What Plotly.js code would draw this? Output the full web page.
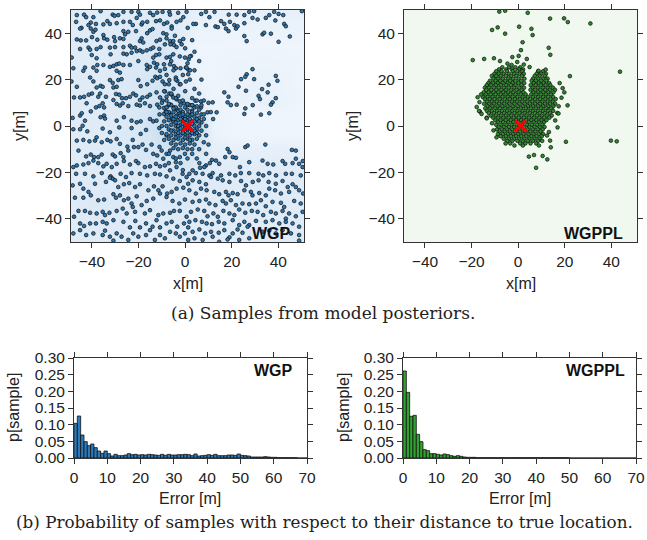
<!DOCTYPE html>
<html>
<head>
<meta charset="utf-8">
<script src="https://cdn.plot.ly/plotly-3.0.1.min.js"></script>
<style>html,body{margin:0;padding:0;background:#fff;}#chart{width:647px;height:540px;}</style>
</head>
<body>
<div id="chart"></div>
<script>
// ---------- DATA ----------
const trueLocation = [1, 0];

// WGP posterior samples [x, y] (m)
const wgpSamples = [
[-46.5,47.8],[-43.4,48],[-42.5,46.9],[-39.4,46.9],[-36.3,49.5],[-31.1,48],[-30.3,47.5],[-28.7,47.8],[-26.5,49.2],[-23,49.2],[-20.1,49.2],[-19.4,48],[-15.1,48.8],[-13.7,47.8],[-12,48.9],[-10.8,45.5],[-9.7,49.2],[-6.8,49.2],[-6.5,48],[-3,48.8],[0.6,49.2],
[-46.8,44.9],[-44.5,42.3],[-40.5,44.6],[-41.5,43.5],[-38.3,44],[-35.1,43.8],[-33.4,45.2],[-29.4,44.3],[-32.3,44],[-26.5,44.9],[-23.7,44.9],[-22.5,43.5],[-20.8,46.6],[-18.7,43.8],[-18.3,44.6],[-16.3,44.9],[-12.5,45.2],[-9.1,44],[-7.7,44.6],[-5.8,42.9],[-3.7,44.9],[-2,45.5],[-0.8,46.9],
[-45.1,42],[-40.5,42],[-39.4,40.6],[-38.5,41.5],[-35.1,39.2],[-30.5,38.3],[-26.5,40.9],[-25.8,39.5],[-24.4,40.6],[-21.1,40.9],[-16.3,40],[-15.1,41.2],[-14,41.8],[-9.4,40],[-5.8,42],[-4.4,38.9],[-8,39.5],[-46.5,37.3],[-44.8,36.9],[-42.5,36.9],[-40,38.3],[-37.7,37.2],[-34.8,37.8],[-33.4,37.2],[-30.1,36.6],[-28,37.8],[-26.5,37.5],[-19.4,36.6],[-18.7,37.8],[-18,36],[-12.3,36.6],[-10.8,37.2],[-8,37.8],[-6.5,36.6],[-5.1,36.6],[-2.3,36.6],[-0.8,37.5],
[-45.1,33.2],[-41.5,33.8],[-40.8,32.9],[-38,33.2],[-36.3,34],[-32.3,33.8],[-32,30.9],[-30.1,34],[-26.5,34],[-23.7,34.6],[-23,33.8],[-21.5,33.8],[-20.8,32.3],[-19.4,32.6],[-18.3,32],[-14.8,33.2],[-13.7,33.8],[-11.1,33.2],[-8.7,35.2],[-6.3,35.2],[-4.8,34.9],[-3.7,34],[-1.5,35.2],[0,33.5],[-48.7,29.5],[-40.1,30.6],[-38,29.2],[-26.5,31.2],[-25.1,30.9],[-23,31.6],[-16.5,32.6],[-13.7,29.5],[-12.5,30.6],[-11.1,30.9],[-8,29.5],[-6.5,29.8],[-5.1,30.9],[-2.3,30],[-0.1,29.5],
[-48,24.9],[-43,25.2],[-39.4,25.2],[-38,23.8],[-37.7,26.3],[-35.1,26.3],[-32.3,25.5],[-30.8,25.9],[-29.4,26.6],[-28.3,26.9],[-26.5,26.3],[-23.7,26.3],[-20.1,28],[-16.5,26.3],[-16.3,24.5],[-15.1,25.5],[-13.4,27.3],[-12.5,25.2],[-12,26.6],[-10.8,23.8],[-9.1,26.6],[-8.7,24.6],[-6.5,26.6],[-4.8,25.8],[-4,24.9],[-2,24.9],[0.3,25.2],[1.3,24.3],[-43.7,23.8],[-29.4,23.8],[-28,23],
[-48.8,19.2],[-46.5,16.9],[-40.8,20.9],[-39.4,19.2],[-38,16.6],[-36.3,17.3],[-35.4,16.9],[-32.3,19.8],[-31.1,18.6],[-30.8,16.6],[-29.4,16.9],[-28.7,19.8],[-27.3,20.2],[-20.1,19.8],[-19.1,17.2],[-16.3,18],[-14,19.5],[-12.8,21.2],[-12,20.6],[-10.8,21.2],[-9.7,19.2],[-8.7,18],[-6.8,19.8],[-4,20.9],[-3.4,19.5],[-2.3,18],[0.3,19.2],[1.3,22.3],[-40,14],
[-47.7,12.3],[-45.1,12.3],[-43.4,12.6],[-41.4,13.5],[-37.3,12.6],[-36.5,14],[-34,12.6],[-30.8,11.2],[-29.7,13.8],[-28.3,13.5],[-27.1,12],[-25.4,12],[-23.7,12.6],[-22.3,14],[-21.1,13.2],[-19.4,11.2],[-18.3,12.3],[-16.3,12.6],[-15.1,13.5],[-12.3,14.5],[-10.8,12.3],[-9.7,10.9],[-8.7,14.9],[-8,12.6],[-6.8,14],[-5.8,13.5],[-5.1,12.3],[-3.7,11.5],[-2.3,10.6],[-0.5,9.8],[1.3,9.2],[-42.3,9.8],[-38.3,8],[-36.8,8.6],[-35.4,9.8],[-34.8,8],[-29.4,9.5],[-28,8.8],[-26.8,9.8],[-24.4,8.6],[-20.8,9.2],[-19.4,8.8],[-17.3,9.8],[-15.1,8.6],[-12,9.2],[-11.1,8],[-9.1,7.8],[-7.7,8.3],[-6.3,9.2],[-4.8,8],[-3.7,7.3],
[-48.3,3.5],[-45.1,4.5],[-44.4,5.5],[-43,2.3],[-40.5,6.3],[-36.3,3.8],[-34.8,4.5],[-34.4,3.2],[-29.4,2.3],[-26.3,3.8],[-23,2.3],[-20.8,1.6],[-19.1,2],[-15.1,3],[-13.7,2],[-12.3,2.3],[-9.1,5.2],[-8.3,6.3],[-6.8,5.5],[-5.8,3.5],[-5.1,2.3],[-3.7,4.5],[-2.5,5.5],[-1.5,3.8],[-0.8,1.8],[0.3,2.6],[1.3,5],
[6.9,48.3],[8.9,49.2],[10.4,46.9],[12.6,49.2],[18.7,48],[22.1,48],[25.4,47.8],[27.5,49.2],[29.6,49.5],[28.9,46.6],[31.1,45.9],[34.6,46.6],[36.1,47.8],[38.2,49.2],[40.1,48.3],[42.1,47.8],[38.7,45.5],[42.5,44],[43.2,43],[50.1,49.5],
[4.6,44],[3.5,44],[8.9,43.5],[13,42.9],[14,42.6],[15.4,45.2],[16.8,44],[17.5,42],[18.6,40.9],[19.2,44.9],[21.1,43.5],[21.8,42],[22.5,43],[25.4,44.3],[25.4,38.8],[26.4,36.6],[33.2,39.5],[33.9,40.2],[36.8,39.8],[40.1,36.3],[44.9,38.6],[1.1,42.3],[2.5,30.2],[1.5,28.8],[0.6,25.2],[2.1,24],
[28.9,24.5],[26.4,22.3],[25.8,21.2],[24,20.2],[29.6,20.2],[38.9,21.6],[39.6,19.5],[22.9,16.9],[26.1,15.2],[33,15.9],[35.8,17.8],[35.4,14.5],[31.5,13],[32.1,11.6],[38.9,12],[37.5,10.2],[36.8,9.2],[29,9],[25.8,7.6],[25.4,5.2],[32.5,4.9],[36.1,5.5],[16.8,14.5],[18.6,12.6],[18.2,10.2],[19.6,9],[22.1,9.2],[11.8,10.2],[13.5,5.9],[9.6,5.9],[6.8,10.6],[6.8,8],[4.4,10.9],[3.2,8.8],[2.9,6.6],
[-48,-1.4],[-45.1,-1.4],[-44,0.1],[-42,-2.3],[-35.4,-1.1],[-32.3,-2.7],[-28.3,-0.6],[-23,-0.9],[-19.1,-3.4],[-16.8,-1.7],[-11.1,-0.9],[-8,-4.1],
[-46.5,-6.3],[-43.7,-6],[-41.1,-6.6],[-38.7,-6.3],[-38,-4.9],[-35.8,-7],[-33.4,-6],[-32,-6.6],[-29.4,-5.6],[-28,-7.7],[-24.8,-8.9],[-22.5,-6],[-22,-9.1],[-20.1,-9.1],[-18.3,-8],[-16.8,-10.3],[-14.4,-8],[-13.7,-12],[-12,-12.7],[-10.1,-10.6],[-9.4,-14.1],[-8,-12],[-6.5,-10.6],[-5.1,-13.4],[-4,-15.6],[-2.3,-13.4],[-0.1,-12],
[-45.8,-10.6],[-42.5,-13.1],[-40.5,-12.3],[-39.1,-13.4],[-37.3,-13.4],[-35.8,-12.3],[-31.1,-12.3],[-30.1,-13.1],[-27.7,-11.7],[-26.5,-13.4],[-24.4,-10.6],
[-48,-17.7],[-46.5,-17],[-43.7,-16.6],[-41.5,-16],[-39.4,-14.9],[-37.3,-16],[-35.1,-17.4],[-33.7,-16.3],[-31.5,-17.7],[-29.4,-16.3],[-26.3,-15.1],[-23.7,-16.6],[-21.1,-15.1],[-20.1,-16],[-17.3,-17.7],[-15.1,-17.4],[-12.5,-16.3],[-10.8,-17.4],[-8.7,-17],[-6.5,-19.1],[-3.7,-17.7],[-1.1,-20.6],
[-46.8,-20.6],[-43,-20.6],[-39.4,-21.7],[-35.8,-20.3],[-32,-21.7],[-31.1,-22.7],[-27.7,-20.6],[-25.4,-22],[-23,-20.3],[-19.4,-20.6],[-16.3,-21.3],[-13,-20.6],[-10.8,-20.9],[-8,-21.7],[-5.1,-22.7],[-2.3,-23.7],[0.6,-22],
[-48.3,-25.6],[-45.1,-24.9],[-43.7,-27],[-41.5,-28.4],[-38.7,-24.9],[-34,-24.1],[-32.3,-22.3],[-30.1,-23.4],[-28.7,-26.3],[-26.3,-25.1],[-24,-24.6],[-21.5,-26.3],[-19.4,-25.1],[-15.8,-27.7],[-13.4,-26],[-11.5,-27.7],[-9.7,-26],[-7.7,-29.1],[-5.8,-28.4],[-3.7,-27],[-0.8,-26.6],[1.3,-24.9],
[-47.3,-30.9],[-43.7,-30.9],[-40.5,-29.9],[-37.3,-32],[-34.8,-31.7],[-30.8,-29.4],[-29.7,-30.9],[-28,-29.9],[-26.3,-32],[-24.4,-31.3],[-23,-33.4],[-20.8,-30.3],[-18.7,-34.1],[-16.5,-32.3],[-13.7,-31.3],[-10.8,-29.1],[-8,-30.6],[-5.4,-32.3],[-2.5,-33.4],[-0.1,-31.7],
[-45.8,-36.6],[-43,-36.6],[-40.8,-37.4],[-38,-37.7],[-35.4,-37],[-34.4,-38.4],[-32.5,-37.4],[-29.4,-36.6],[-26.8,-35.6],[-25.1,-37.7],[-22.5,-34.9],[-21.5,-37],[-17.3,-37.7],[-15.1,-36.3],[-11.5,-38.4],[-9.4,-37.7],[-6.5,-37.4],[-4.8,-36.6],[-2.3,-36.6],[0.6,-39.1],
[-47.7,-39.1],[-45.1,-42],[-43.4,-43.1],[-40.8,-42],[-38.3,-42],[-35.4,-41.3],[-33.7,-42],[-30.8,-40.6],[-26.5,-41.3],[-23.7,-43.7],[-21.4,-40.9],[-19.4,-43.7],[-16.8,-42],[-14,-43.4],[-12.3,-40.6],[-10.8,-43.7],[-8,-42],[-5.8,-41.3],[-3.4,-43.4],[-0.5,-42],[1.3,-43.7],
[-48,-46.3],[-45.1,-44.9],[-42.5,-47],[-39.4,-46.3],[-35.4,-47],[-34.4,-45.1],[-32.3,-47.7],[-30.8,-49.4],[-29.4,-46.3],[-27.3,-47.7],[-24.4,-49.1],[-22.3,-46.3],[-20.1,-47.7],[-16.8,-47],[-15.1,-44.9],[-13,-49.1],[-10.8,-47],[-8.7,-48.4],[-6.5,-45.6],[-4,-46.3],[-2.3,-47.7],[-0.1,-46.3],[1.3,-49.1],
[18.2,-9.9],[19,-11.3],[25.8,-9.1],[26.8,-8.4],[34.4,-8],[45.8,-10.3],[47.5,-10.6],[50.4,-17.7],[17.2,-13.4],[20.4,-13.4],[21.8,-13.7],[13.2,-14.9],[14.6,-16.3],[11.5,-14.6],[10.6,-16],[8.9,-17],[8.2,-17.7],[6.1,-16],[6.4,-18],[3.2,-19.1],[4.6,-20.3],[1.8,-20.6],
[23.5,-17.7],[27.5,-15.6],[33.2,-14.9],[35.4,-16.3],[37.8,-16.6],[41.8,-15.1],[42.9,-16.3],[46.1,-16],[47.5,-14.1],[48.9,-16.3],[50.5,-15.1],
[7.5,-20.6],[10.4,-21.3],[11.8,-20.3],[15.4,-21.3],[19,-20.6],[21.5,-21.3],[23.9,-20.3],[27.5,-20.3],[31.5,-20.6],[33.5,-21.3],[36.1,-20.3],[39,-21.3],[43.2,-20.6],[45.8,-20.6],[49.6,-21.3],
[3.2,-23.4],[6.1,-24.1],[8.9,-25.1],[11.1,-22],[14,-22.7],[16.1,-23.4],[19,-24.1],[24,-23.7],[26.1,-25.6],[29,-24.1],[31.5,-23.4],[35.8,-24.1],[38.9,-24.9],[41.8,-23.7],[44,-26.3],[46.1,-25.1],[47.5,-26.3],
[1.8,-27.7],[4.6,-29.1],[6.8,-27],[9.2,-27.7],[12.5,-28.4],[14.6,-29.4],[17.5,-28.4],[18.6,-29.9],[20.4,-28.9],[22.5,-29.4],[25.4,-27.7],[28.2,-28.4],[28.9,-29.9],[31.8,-28.9],[34.6,-29.9],[36.1,-27],[38.6,-27.7],[41.1,-29.1],[44.6,-28.4],[48.9,-27.7],[50.6,-29.1],
[3.2,-32.7],[6.1,-32.3],[8.9,-31.7],[10.4,-33.4],[13,-34.1],[16.1,-32.3],[17.5,-33.4],[19.6,-32],[21.8,-34.1],[24.6,-33.4],[27.5,-33.7],[30.4,-33.4],[32.5,-32],[34.6,-34.6],[37.5,-32.7],[41.1,-33.1],[42.5,-34.9],[46.8,-32.3],[49.6,-33.4],
[2.5,-37],[5.4,-36],[8.2,-36.6],[9.6,-38.9],[12.1,-37.7],[14,-39.1],[16.4,-36.6],[19,-37.7],[21.1,-38.4],[23.2,-36],[25.8,-37.4],[28.6,-36.6],[31.1,-37],[33.5,-38.4],[36.8,-37],[38.9,-37.7],[41.8,-36.6],[43.2,-39.9],[44.6,-37.7],[47.5,-38.9],[50.4,-37],
[1.8,-41.3],[4.4,-40.6],[7.2,-41.3],[9.2,-42],[11.5,-42.3],[14.4,-41.3],[16.8,-42],[20.4,-40.6],[23.2,-42.7],[25.4,-41.3],[27.5,-42.7],[30.4,-40.9],[34.6,-41.3],[37.5,-40.6],[40.4,-42],[43.2,-41.3],[46.1,-42],[48.9,-43.4],
[3.2,-45.6],[6.1,-44.6],[8.6,-46.3],[11.1,-45.6],[14.4,-46],[16.8,-44.9],[19,-48],[20.4,-46.3],[22.5,-44.6],[24.6,-46],[26.8,-43.4],[33.2,-45.6],[36.1,-45.1],[38.9,-46.3],[41.8,-44.9],[45.4,-46.3],[48.9,-47],
[4,-48.4],[7.5,-49.1],[11.8,-47.7],[14.6,-49.9],[18.2,-48.9],[23.2,-49.1],[27.5,-48.4],[48.9,-49.4],
[-8,8],[-6,9],[-4,8],[-2,9],[0,8],[2,9],[4,8],[6,7],[-7,6],[-5,6],[-3,6.5],[-1,6],[1,7],[3,6],[5,5.5],[7,5],[-8,4],[-6,4.5],[-4,4],[-2,4.5],[0,4],[2,4.5],[4,4],[6,3.5],[8,3],[-9,2],[-7,2.5],[-5,2],[-3,2.5],[-1,2],[1,2.5],[3,2],[5,2],[7,1.5],[-8,0],[-6,0.5],[-4,0],[-2,0.5],[0,0],[2,1],[4,0],[6,0],[-7,-1.5],[-5,-2],[-3,-1.5],[-1,-2],[1,-1.5],[3,-2],[5,-1.5],[7,-2],[-8,-3.5],[-6,-4],[-4,-3.5],[-2,-4],[0,-3.5],[2,-4],[4,-3.5],[6,-4],[-7,-5.5],[-5,-6],[-3,-5.5],[-1,-6],[1,-5.5],[3,-6],[5,-5.5],[-6,-7.5],[-4,-8],[-2,-7.5],[0,-8],[2,-7.5],[4,-8],[-3,-10],[-1,-9.5],[1,-10],[3,-10],[-5,-9.5],
[-1,1],[1,0.5],[0,-1],[2,-1],[3,1],[-2,-1],[0,3],[2,3],[-1,-3],[1,-3],[3,-3],[4,2],[-3,0],[-2,3],[-4,1.5],[-3,-3],[1,5],[-1,5],[3,5],[-5,3],[5,3],[4,-2],[0,-5],[2,-6],[-4,-5],[5,-3],[-6,-2],[6,2],[-2,7],[-5,7.5],[1,9.5],[3,9],[-7,9.5],[5,8.5],[-8,6],
[-6,28],[-5,24],[-8,22],[-7,18],[-5,16],[-9,15],[-6,14],[-4,12],[-8,11],[-10,10],[-11,5],[-10,0],[-10,-3],[-9,-6],[-11,-9],[-7,-12],[-4,-14],[-2,-16],[1,-14],[3,-12],[6,-10],[8,-7],[9,-4],[9,0],[8,5],[7,9],[5,11],[3,12],[-1,11],[-3,13],[0,15],[-2,18],[-4,20],[-1,22],[1,27],[2,30],[4,32],[3,37],[6,28],[7,20],[4,24],[2,20],[4,16],[6,14],[8,11],[10,10],[11,6],[12,3],[10,-8],[9,-12],[5,-14],[-1,-19],[-7,-16]
];

// WGPPL posterior samples [x, y] (m)
const wgpplSamples = [
[-6.8,25.3],[-3.9,25.3],[-1.2,25.3],[0.9,25.3],
[-8.2,24.4],[-5.1,24.4],[-2.6,24.4],[0.3,24.4],[2.1,24.4],
[-9.4,23.6],[-7.1,23.6],[-4.8,23.6],[-2.3,23.6],[-0.4,23.6],[1.8,23.6],[8.6,23.6],[10.7,23.6],
[-10.2,22.5],[-8.3,22.5],[-6.2,22.5],[-3.9,22.5],[-1.7,22.5],[0.6,22.5],[2.4,22.5],[7.9,22.5],[9.8,22.5],[11.9,22.5],
[-11.3,21.6],[-9.4,21.6],[-7.5,21.6],[-5.3,21.6],[-3.1,21.6],[-0.8,21.6],[1.6,21.6],[7.1,21.6],[9.2,21.6],[11.4,21.6],
[-10.6,20.4],[-8.6,20.4],[-6.6,20.4],[-4.2,20.4],[-2.2,20.4],[0.2,20.4],[2.7,20.4],[6.4,20.4],[8.5,20.4],[10.6,20.4],[12.6,20.4],
[-12.1,19.5],[-9.7,19.5],[-7.7,19.5],[-5.5,19.5],[-3.4,19.5],[-1.2,19.5],[1.3,19.5],[5.8,19.5],[7.6,19.5],[9.9,19.5],[12.1,19.5],
[-12.8,18.5],[-10.9,18.5],[-8.8,18.5],[-6.7,18.5],[-4.6,18.5],[-2.4,18.5],[0.1,18.5],[2.6,18.5],[6.7,18.5],[8.8,18.5],[10.9,18.5],[13.3,18.5],[17.8,18.5],
[-13.5,17.6],[-11.7,17.6],[-9.6,17.6],[-7.4,17.6],[-5.2,17.6],[-3.1,17.6],[-1.1,17.6],[1.4,17.6],[5.4,17.6],[7.5,17.6],[9.7,17.6],[11.8,17.6],[13.8,17.6],
[-14.3,16.5],[-12.4,16.5],[-10.3,16.5],[-8.3,16.5],[-6.1,16.5],[-4,16.5],[-1.8,16.5],[0.4,16.5],[2.5,16.5],[6.2,16.5],[8.4,16.5],[10.6,16.5],[12.7,16.5],[14.9,16.5],
[-13.7,15.6],[-11.6,15.6],[-9.4,15.6],[-7.2,15.6],[-5.2,15.6],[-2.9,15.6],[-0.7,15.6],[1.5,15.6],[5.3,15.6],[7.3,15.6],[9.5,15.6],[11.6,15.6],[13.6,15.6],[15.8,15.6],
[-14.8,14.5],[-12.7,14.5],[-10.6,14.5],[-8.5,14.5],[-6.4,14.5],[-4.3,14.5],[-2.1,14.5],[0.2,14.5],[2.3,14.5],[6.5,14.5],[8.6,14.5],[10.8,14.5],[12.9,14.5],[15.1,14.5],
[-13.9,13.6],[-11.8,13.6],[-9.7,13.6],[-7.5,13.6],[-5.4,13.6],[-3.3,13.6],[-1.1,13.6],[1.1,13.6],[3.2,13.6],[5.6,13.6],[7.7,13.6],[9.8,13.6],[11.9,13.6],[14.1,13.6],
[-15.2,12.5],[-13.1,12.5],[-11,12.5],[-8.8,12.5],[-6.7,12.5],[-4.5,12.5],[-2.4,12.5],[-0.3,12.5],[1.9,12.5],[4.1,12.5],[6.3,12.5],[8.5,12.5],[10.7,12.5],[12.8,12.5],[15,12.5],
[-14.3,11.6],[-12.2,11.6],[-10.1,11.6],[-7.9,11.6],[-5.7,11.6],[-3.6,11.6],[-1.4,11.6],[0.8,11.6],[3,11.6],[5.2,11.6],[7.3,11.6],[9.5,11.6],[11.7,11.6],[13.9,11.6],[16.1,11.6],
[-13.4,10.5],[-11.3,10.5],[-9.2,10.5],[-7,10.5],[-4.8,10.5],[-2.6,10.5],[-0.5,10.5],[1.7,10.5],[3.9,10.5],[6.1,10.5],[8.3,10.5],[10.4,10.5],[12.6,10.5],[14.8,10.5],
[-14.6,9.6],[-12.5,9.6],[-10.4,9.6],[-8.2,9.6],[-6,9.6],[-3.8,9.6],[-1.6,9.6],[0.6,9.6],[2.8,9.6],[5,9.6],[7.2,9.6],[9.4,9.6],[11.5,9.6],[13.7,9.6],[15.9,9.6],
[-13.2,8.5],[-11.1,8.5],[-8.9,8.5],[-6.8,8.5],[-4.6,8.5],[-2.4,8.5],[-0.2,8.5],[2,8.5],[4.2,8.5],[6.4,8.5],[8.6,8.5],[10.7,8.5],[12.9,8.5],[15.1,8.5],
[-14.1,7.6],[-12,7.6],[-9.8,7.6],[-7.7,7.6],[-5.5,7.6],[-3.3,7.6],[-1.1,7.6],[1.1,7.6],[3.3,7.6],[5.5,7.6],[7.7,7.6],[9.9,7.6],[12.1,7.6],[14.2,7.6],
[-13.4,6.5],[-11.3,6.5],[-9.1,6.5],[-6.9,6.5],[-4.7,6.5],[-2.5,6.5],[-0.3,6.5],[1.9,6.5],[4.1,6.5],[6.3,6.5],[8.5,6.5],[10.7,6.5],[12.8,6.5],[15,6.5],
[-12.6,5.6],[-10.4,5.6],[-8.2,5.6],[-6,5.6],[-3.8,5.6],[-1.6,5.6],[0.6,5.6],[2.8,5.6],[5,5.6],[7.2,5.6],[9.3,5.6],[11.5,5.6],[13.7,5.6],[16.8,5.6],
[-11.8,4.5],[-9.6,4.5],[-7.4,4.5],[-5.2,4.5],[-3,4.5],[-0.8,4.5],[1.4,4.5],[3.6,4.5],[5.8,4.5],[8,4.5],[10.1,4.5],[12.3,4.5],[14.4,4.5],
[-13.5,3.6],[-10.7,3.6],[-8.5,3.6],[-6.3,3.6],[-4.1,3.6],[-1.9,3.6],[0.3,3.6],[2.5,3.6],[4.7,3.6],[6.9,3.6],[9.1,3.6],[11.2,3.6],[13.4,3.6],
[-9.8,2.5],[-7.6,2.5],[-5.4,2.5],[-3.2,2.5],[-1,2.5],[1.2,2.5],[3.4,2.5],[5.6,2.5],[7.8,2.5],[10,2.5],[12.1,2.5],
[-8.7,1.6],[-6.5,1.6],[-4.3,1.6],[-2.1,1.6],[0.1,1.6],[2.3,1.6],[4.5,1.6],[6.7,1.6],[8.9,1.6],[11,1.6],
[-9.4,0.5],[-7.2,0.5],[-5,0.5],[-2.8,0.5],[-0.6,0.5],[1.6,0.5],[3.8,0.5],[6,0.5],[8.2,0.5],[10.4,0.5],
[-8.4,-0.4],[-6.2,-0.4],[-4,-0.4],[-1.8,-0.4],[0.4,-0.4],[2.6,-0.4],[4.8,-0.4],[7,-0.4],[9.2,-0.4],[11.3,-0.4],
[-9.1,-1.5],[-7,-1.5],[-4.8,-1.5],[-2.6,-1.5],[-0.4,-1.5],[1.8,-1.5],[4,-1.5],[6.2,-1.5],[8.4,-1.5],[10.5,-1.5],
[-8,-2.4],[-5.8,-2.4],[-3.6,-2.4],[-1.4,-2.4],[0.8,-2.4],[3,-2.4],[5.2,-2.4],[7.4,-2.4],[9.6,-2.4],
[-8.7,-3.5],[-6.6,-3.5],[-4.4,-3.5],[-2.2,-3.5],[0,-3.5],[2.2,-3.5],[4.4,-3.5],[6.6,-3.5],[8.8,-3.5],[10.7,-3.5],
[-7.5,-4.4],[-5.3,-4.4],[-3.1,-4.4],[-0.9,-4.4],[1.3,-4.4],[3.5,-4.4],[5.7,-4.4],[7.9,-4.4],[10.1,-4.4],
[-6.2,-5.5],[-4,-5.5],[-1.8,-5.5],[0.4,-5.5],[2.6,-5.5],[4.8,-5.5],[7,-5.5],[9.2,-5.5],
[-4.7,-6.4],[-2.5,-6.4],[-0.3,-6.4],[1.9,-6.4],[4.1,-6.4],[6.3,-6.4],[8.5,-6.4],[10.3,-6.4],
[-3.4,-7.5],[0.9,-7.5],[3.1,-7.5],[5.3,-7.5],[7.8,-7.5],
[-1.6,-8.4],[2,-8.4],[8.9,-8.4],
[-8.1,49.3],[-5.6,49.7],[4.1,48.8],[13.7,46.3],[19.7,46.4],[21.3,44.8],[31,44.2],[-11.2,41.4],[-8.8,42.5],[0.4,42.8],[-5.6,39.8],[5.7,41.9],[6.2,39.2],[1.9,36.1],[13.1,33.7],[1.2,32.7],[13.8,30.7],[0.2,30.2],[-2.5,29.7],[3.7,28.9],[-19.5,28.4],[-14.6,28.9],[-10.4,29.2],[43.7,23.4],[22.2,21.5],[20.5,-6.8],[39.8,-6.3],[42.3,-6.6],[13.7,-6.3],[14,-9.2],[4.6,-13.2],[6.8,-12.5],[10.5,-12.9],[12.5,-14.4],[7.7,-18],[-7.8,28],[-16.4,6.2],[-15.7,5.2],[-13.5,3.3],[-9.3,-4.9],[-5.4,-7.5],[-0.4,27.6],[2.4,26.5],[-2.8,26.3],[4.9,25.4],[-17.4,12.4],[-16.6,10.3],[-17.8,8.2],[19.8,14.5],[18.6,12.2],[19.1,16.3],[17.3,5.4],[15.9,2.4],[13.2,-2.6],[12.4,-4.1],[-10.6,-1.9],[-11.2,1.2],[16.9,-0.6],[8.7,23.8],[11.8,24.3],[-4.6,26.9],[21.2,8.9],[-15.9,13.6],[17.4,8.5],[-16.8,6.5]
];

// WGP posterior density background (coarse grid)
const densX = [-49, -35, -20, -10, -4, 1, 6, 12, 20, 35, 51];
const densY = [-50, -35, -20, -10, -4, 0, 5, 10, 20, 35, 50];
const densZ = [
[0.25,0.25,0.25,0.25,0.25,0.25,0.25,0.25,0.25,0.25,0.25],
[0.25,0.28,0.25,0.25,0.28,0.28,0.25,0.25,0.25,0.25,0.25],
[0.25,0.25,0.28,0.30,0.30,0.30,0.28,0.25,0.25,0.25,0.25],
[0.25,0.25,0.30,0.35,0.40,0.40,0.30,0.18,0.15,0.15,0.15],
[0.25,0.25,0.30,0.40,0.65,0.75,0.45,0.12,0.05,0.05,0.05],
[0.25,0.25,0.30,0.45,0.80,1.00,0.55,0.10,0.05,0.05,0.05],
[0.25,0.25,0.30,0.45,0.65,0.70,0.40,0.10,0.05,0.05,0.05],
[0.25,0.25,0.30,0.40,0.40,0.35,0.20,0.08,0.10,0.15,0.05],
[0.25,0.25,0.30,0.35,0.30,0.15,0.08,0.05,0.10,0.12,0.05],
[0.25,0.25,0.28,0.32,0.25,0.12,0.05,0.05,0.05,0.05,0.05],
[0.25,0.25,0.25,0.25,0.25,0.20,0.15,0.15,0.15,0.15,0.15]
];

// Error histograms: 1 m bins starting at 0
const errorBins = [0.5,1.5,2.5,3.5,4.5,5.5,6.5,7.5,8.5,9.5,10.5,11.5,12.5,13.5,14.5,15.5,16.5,17.5,18.5,19.5,20.5,21.5,22.5,23.5,24.5,25.5,26.5,27.5,28.5,29.5,30.5,31.5,32.5,33.5,34.5,35.5,36.5,37.5,38.5,39.5,40.5,41.5,42.5,43.5,44.5,45.5,46.5,47.5,48.5,49.5,50.5,51.5,52.5,53.5,54.5,55.5,56.5,57.5,58.5,59.5,60.5,61.5,62.5,63.5,64.5,65.5,66.5,67.5,68.5,69.5];
const wgpHist = [0.104,0.126,0.069,0.049,0.037,0.042,0.031,0.021,0.014,0.021,0.013,0.006,0.011,0.007,0.007,0.009,0.013,0.010,0.011,0.009,0.010,0.009,0.011,0.010,0.009,0.008,0.011,0.008,0.011,0.009,0.009,0.010,0.010,0.011,0.010,0.007,0.012,0.006,0.007,0.008,0.010,0.008,0.011,0.007,0.007,0.007,0.009,0.009,0.008,0.012,0.008,0.007,0.006,0.003,0.003,0.003,0.003,0.004,0.003,0.002,0.002,0.001,0.001,0.001,0.001,0.001,0.001,0,0,0];
const wgpplHist = [0.261,0.197,0.125,0.128,0.071,0.049,0.025,0.022,0.013,0.013,0.011,0.009,0.012,0.010,0.007,0.005,0.007,0.005,0.003,0.002,0.002,0.002,0.001,0.001,0.001,0.001,0.001,0.001,0.001,0.001,0.001,0.001,0.001,0.001,0.001,0.001,0.001,0.001,0.001,0.001,0.001,0.001,0.001,0.001,0.001,0.001,0.001,0.001,0.001,0.001,0,0,0,0,0,0,0,0,0,0,0,0,0,0,0,0,0,0,0,0];

const posTicks = [-40, -20, 0, 20, 40];
const errTicks = [0, 10, 20, 30, 40, 50, 60, 70];
const probTicks = [0, 0.05, 0.10, 0.15, 0.20, 0.25, 0.30];

// ---------- TRACES ----------
const dotLine = {color: '#0c0c0c', width: 0.7};
const redX = {symbol: 'x-thin', size: 11, color: '#ff0000', line: {color: '#ff0000', width: 3}};
const traces = [
  {type: 'heatmap', x: densX, y: densY, z: densZ, zsmooth: 'best', zmin: 0, zmax: 1, showscale: false,
   colorscale: [[0,'#f2f7fd'],[0.25,'#dfebf7'],[0.5,'#c2dbee'],[0.75,'#96c3e2'],[1,'#68a6d4']],
   xaxis: 'x', yaxis: 'y', hoverinfo: 'skip'},
  {type: 'scatter', mode: 'markers', x: wgpSamples.map(p => p[0]), y: wgpSamples.map(p => p[1]),
   marker: {size: 3.7, color: '#2f79b3', line: dotLine}, xaxis: 'x', yaxis: 'y'},
  {type: 'scatter', mode: 'markers', x: [trueLocation[0]], y: [trueLocation[1]], marker: redX, xaxis: 'x', yaxis: 'y'},
  {type: 'scatter', mode: 'markers', x: wgpplSamples.map(p => p[0]), y: wgpplSamples.map(p => p[1]),
   marker: {size: 3.7, color: '#2e8b2e', line: dotLine}, xaxis: 'x2', yaxis: 'y2'},
  {type: 'scatter', mode: 'markers', x: [trueLocation[0]], y: [trueLocation[1]], marker: redX, xaxis: 'x2', yaxis: 'y2'},
  {type: 'bar', x: errorBins, y: wgpHist, width: 1, marker: {color: '#2b7bba', line: {color: '#111', width: 0.8}}, xaxis: 'x3', yaxis: 'y3'},
  {type: 'bar', x: errorBins, y: wgpplHist, width: 1, marker: {color: '#33a033', line: {color: '#111', width: 0.8}}, xaxis: 'x4', yaxis: 'y4'}
];

// ---------- LAYOUT ----------
const W = 647, H = 540;
const dx = (a, b) => [a / W, b / W];
const dy = (top, bot) => [1 - bot / H, 1 - top / H];
const axBase = {showgrid: false, zeroline: false, showline: true, linecolor: '#333', linewidth: 1,
  mirror: 'ticks', ticks: 'outside', ticklen: 5, tickwidth: 1, tickcolor: '#333',
  tickfont: {size: 15.5, color: '#222'}, fixedrange: true};

const titleFont = {size: 16, color: '#222'};
const tagFont = {size: 16, color: '#111', weight: 'bold'};
const capFont = {family: 'DejaVu Serif, serif', size: 17, color: '#222'};
const ann = (text, x, y, opts) => Object.assign({text, x, y, xref: 'paper', yref: 'paper', showarrow: false,
  xanchor: 'center', yanchor: 'middle', font: titleFont}, opts || {});

const layout = {
  width: W, height: H, margin: {l: 0, r: 0, t: 0, b: 0},
  paper_bgcolor: '#ffffff', plot_bgcolor: '#ffffff', showlegend: false,
  font: {family: 'Liberation Sans, Arial, sans-serif', color: '#222'},
  bargap: 0,
  xaxis:  Object.assign({}, axBase, {domain: dx(71, 304), range: [-49, 51], tickvals: posTicks, anchor: 'y'}),
  yaxis:  Object.assign({}, axBase, {domain: dy(10, 242), range: [-50, 50], tickvals: posTicks, anchor: 'x'}),
  xaxis2: Object.assign({}, axBase, {domain: dx(404, 637), range: [-49, 51], tickvals: posTicks, anchor: 'y2'}),
  yaxis2: Object.assign({}, axBase, {domain: dy(10, 242), range: [-50, 50], tickvals: posTicks, anchor: 'x2'}),
  xaxis3: Object.assign({}, axBase, {domain: dx(74, 307), range: [0, 70], tickvals: errTicks, anchor: 'y3'}),
  yaxis3: Object.assign({}, axBase, {domain: dy(358, 458), range: [0, 0.30], tickvals: probTicks, tickformat: '.2f', anchor: 'x3'}),
  xaxis4: Object.assign({}, axBase, {domain: dx(403, 636), range: [0, 70], tickvals: errTicks, anchor: 'y4'}),
  yaxis4: Object.assign({}, axBase, {domain: dy(358, 458), range: [0, 0.30], tickvals: probTicks, tickformat: '.2f', anchor: 'x4'}),
  shapes: [
    {type: 'rect', xref: 'x2 domain', yref: 'y2 domain', x0: 0, x1: 1, y0: 0, y1: 1,
     fillcolor: '#f1f8ef', line: {width: 0}, layer: 'below'}
  ],
  annotations: [
    ann('x[m]', 187.5 / W, 1 - 283 / H),
    ann('x[m]', 520.5 / W, 1 - 283 / H),
    ann('y[m]', 19 / W, 1 - 126 / H, {textangle: -90}),
    ann('y[m]', 352 / W, 1 - 126 / H, {textangle: -90}),
    ann('WGP', 293 / W, 1 - 233 / H, {xanchor: 'right', font: tagFont}),
    ann('WGPPL', 625 / W, 1 - 233 / H, {xanchor: 'right', font: tagFont}),
    ann('(a) Samples from model posteriors.', 323 / W, 1 - 313 / H, {font: capFont}),
    ann('p[sample]', 13 / W, 1 - 408 / H, {textangle: -90}),
    ann('p[sample]', 343 / W, 1 - 408 / H, {textangle: -90}),
    ann('Error [m]', 190.5 / W, 1 - 498 / H),
    ann('Error [m]', 519.5 / W, 1 - 498 / H),
    ann('WGP', 295 / W, 1 - 370 / H, {xanchor: 'right', font: tagFont}),
    ann('WGPPL', 627 / W, 1 - 370 / H, {xanchor: 'right', font: tagFont}),
    ann('(b) Probability of samples with respect to their distance to true location.', 324.5 / W, 1 - 522 / H, {font: {family: 'DejaVu Serif, serif', size: 16.8, color: '#222'}})
  ]
};

Plotly.newPlot('chart', traces, layout, {displayModeBar: false, staticPlot: true});
</script>
</body>
</html>
